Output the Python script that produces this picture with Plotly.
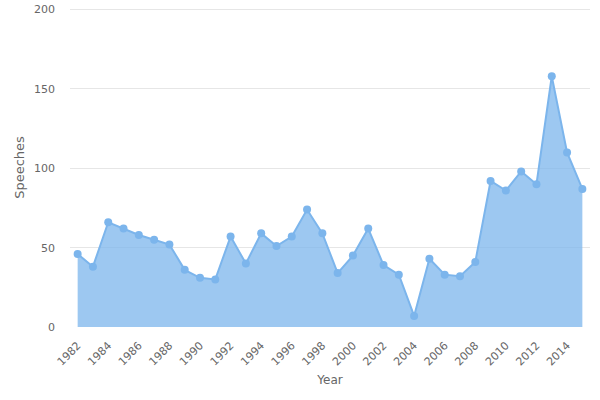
import plotly.graph_objects as go

years = list(range(1982, 2016))
speeches = [46, 38, 66, 62, 58, 55, 52, 36, 31, 30, 57, 40, 59, 51, 57, 74, 59, 34, 45, 62,
            39, 33, 7, 43, 33, 32, 41, 92, 86, 98, 90, 158, 110, 87]
tick_years = list(range(1982, 2016, 2))

fig = go.Figure()
fig.add_trace(go.Scatter(
    x=years, y=speeches, mode="lines+markers",
    fill="tozeroy", fillcolor="rgba(124,181,236,0.75)",
    line=dict(color="#7cb5ec", width=2),
    marker=dict(color="#7cb5ec", size=8),
    hoverinfo="x+y", showlegend=False,
))

fig.update_layout(
    width=600, height=400,
    margin=dict(l=70, r=10, t=8, b=73),
    plot_bgcolor="white", paper_bgcolor="white",
    font=dict(family="DejaVu Sans", color="#666666"),
    xaxis=dict(
        range=[1981.5, 2015.5], autorange=False, automargin=False,
        tickmode="array", tickvals=tick_years,
        ticktext=[str(y) for y in tick_years], tickangle=-45,
        ticklabelstandoff=9,
        showgrid=False, zeroline=False, showline=False,
        tickfont=dict(size=11, color="#666666"),
        title=dict(text="Year", font=dict(size=12, color="#666666"), standoff=8),
    ),
    yaxis=dict(
        range=[0, 201], autorange=False, automargin=False,
        tickvals=[0, 50, 100, 150, 200],
        ticklabelstandoff=14,
        showgrid=True, gridcolor="#e6e6e6", zeroline=False, showline=False,
        tickfont=dict(size=11, color="#666666"), ticklen=0,
        title=dict(text="Speeches", font=dict(size=13, color="#666666"), standoff=6),
    ),
)

fig.write_html("out.html", config={"displayModeBar": False},
               post_script="document.body.style.margin='0';")
